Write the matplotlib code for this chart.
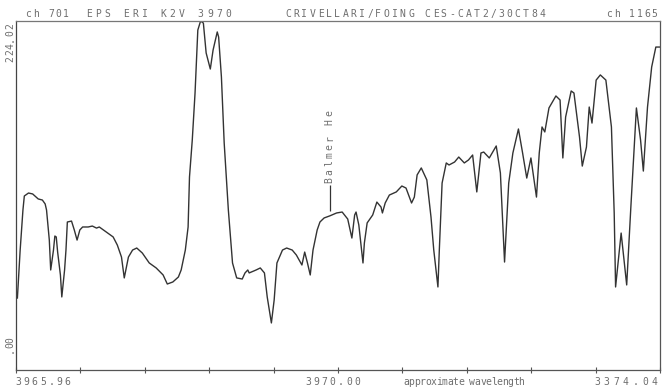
#!/usr/bin/env python3
"""Spectrum plot of eps Eri (K2V) around Ca II H / Balmer He, CES channels 701-1165."""

import numpy as np
import matplotlib.pyplot as plt
from matplotlib.transforms import offset_copy

# -*- Daten: Kanal und Zaehlrate
channel = [702, 704, 706, 707, 710, 713, 717, 720, 722, 723, 724, 725, 726, 728,
           729, 730, 731, 733, 734, 736, 737, 738, 741, 743, 745, 747, 749, 753,
           756, 759, 761, 766, 771, 774, 777, 779, 782, 785, 788, 792, 797, 802,
           807, 810, 814, 818, 820, 823, 825, 826, 828, 830, 832, 834, 836, 838,
           841, 843, 846, 847, 849, 851, 854, 857, 860, 864, 866, 868, 869, 874,
           877, 880, 882, 885, 887, 889, 893, 896, 900, 903, 907, 909, 911, 913,
           915, 918, 920, 923, 927, 932, 936, 940, 943, 945, 946, 948, 951, 952,
           954, 958, 961, 964, 965, 967, 970, 975, 979, 982, 986, 988, 990, 993,
           997, 1000, 1002, 1005, 1006, 1008, 1011, 1013, 1017, 1020, 1024, 1027,
           1030, 1033, 1036, 1038, 1042, 1047, 1050, 1053, 1056, 1059, 1063, 1066,
           1069, 1072, 1076, 1078, 1080, 1082, 1085, 1090, 1093, 1095, 1097, 1101,
           1103, 1107, 1109, 1112, 1114, 1116, 1119, 1122, 1126, 1130, 1132, 1133,
           1137, 1141, 1144, 1148, 1151, 1153, 1156, 1159, 1162, 1165]
counts = [46.2, 77.0, 102.7, 111.7, 113.6, 113.0, 109.8, 109.1, 106.6, 102.7,
          93.1, 83.4, 64.2, 77.0, 86.0, 85.4, 75.7, 61.0, 46.9, 64.2, 77.0, 95.0,
          95.6, 89.9, 83.4, 89.9, 91.8, 91.8, 92.4, 91.1, 91.8, 88.6, 85.4, 80.2,
          72.5, 59.1, 72.5, 77.0, 78.3, 75.1, 68.7, 65.5, 61.0, 55.2, 56.5, 59.7,
          64.2, 77.0, 91.8, 123.9, 147.6, 177.8, 218.2, 224.0, 222.7, 203.5, 193.2,
          205.4, 217.0, 213.7, 188.1, 145.7, 102.7, 68.7, 59.1, 58.4, 62.3, 64.2,
          62.3, 64.2, 65.5, 62.3, 46.9, 30.2, 44.9, 68.7, 77.0, 78.3, 77.0, 73.8,
          67.4, 75.7, 68.7, 61.0, 77.0, 89.9, 95.0, 97.6, 98.9, 100.8, 101.4, 96.9,
          84.7, 99.5, 101.4, 93.1, 68.7, 81.5, 94.4, 99.5, 107.8, 104.6, 100.8,
          107.2, 112.3, 114.3, 118.1, 116.8, 107.2, 111.0, 125.2, 129.7, 122.0,
          98.2, 77.0, 53.3, 77.0, 120.0, 132.9, 131.6, 133.5, 136.7, 132.9, 134.8,
          138.0, 114.3, 139.3, 139.9, 136.1, 143.8, 126.5, 69.3, 120.0, 139.3,
          154.7, 139.3, 123.2, 136.1, 111.0, 139.3, 156.0, 152.8, 168.2, 175.9,
          173.3, 136.1, 162.4, 179.1, 177.8, 149.6, 130.9, 143.1, 168.8, 158.5,
          186.1, 189.4, 186.1, 156.0, 100.8, 53.3, 87.9, 54.6, 104.6, 168.2, 147.6,
          127.7, 168.8, 194.5, 207.3, 207.3]

ch_first, ch_last = 701, 1165
ymax = 224.02
balmer_ch = 927

W, H = 662, 391
ink = "#333333"
txt = "#6e6e6e"

fig = plt.figure(figsize=(W / 100, H / 100), dpi=100)
ax = fig.add_axes([16 / W, 1 - 370 / H, 644 / W, 349 / H])

ax.plot(channel, counts, color=ink, lw=1.0)
ax.set_xlim(ch_first, ch_last)
ax.set_ylim(0, ymax)

# Plotterrahmen
for side, col in (("left", "#444444"), ("bottom", "#555555"),
                  ("top", "#777777"), ("right", "#555555")):
    ax.spines[side].set_color(col)
    ax.spines[side].set_linewidth(0.9)
ax.set_xticks(np.linspace(ch_first, ch_last, 11))
ax.set_xticklabels([])
ax.set_yticks([])
ax.tick_params(axis="x", direction="inout", length=4, width=0.8, color="#555555")

# Markierung Balmer He
ax.vlines(balmer_ch, 102.0, 118.5, color=ink, lw=0.9)


def plotter_text(x, y, s, pitch, trans, vertical=False, size=7):
    """Schrift wie vom Plotter: feste Zeichenbreite in Pixeln"""
    for i, c in enumerate(s):
        if vertical:
            t = offset_copy(trans, fig=fig, x=0, y=i * pitch, units="dots")
            fig.text(x, y, c, transform=t, rotation=90, ha="center", va="center",
                     family="DejaVu Sans Mono", fontsize=size, color=txt)
        else:
            t = offset_copy(trans, fig=fig, x=i * pitch, y=0, units="dots")
            fig.text(x, y, c, transform=t, ha="center", va="baseline",
                     family="DejaVu Sans Mono", fontsize=size, color=txt)


def fx(px):
    return px / W


def fy(py):
    return 1 - py / H


tf = fig.transFigure
# Kopfzeile
plotter_text(fx(28), fy(17), "ch 701", 7.6, tf)
plotter_text(fx(89), fy(17), "EPS ERI K2V 3970", 9.3, tf)
plotter_text(fx(288), fy(17), "CRIVELLARI/FOING CES-CAT2/30CT84", 8.2, tf)
plotter_text(fx(609), fy(17), "ch 1165", 7.6, tf)

# x-Achse
plotter_text(fx(18), fy(385), "3965.96", 8.3, tf)
plotter_text(fx(308), fy(385), "3970.00", 8.2, tf)
plotter_text(fx(406), fy(385), "approximate wavelength", 5.5, tf)
plotter_text(fx(597), fy(385), "3374.04", 9.6, tf)

# y-Achse
plotter_text(fx(10), fy(59), "224.02", 6.5, tf, vertical=True)
plotter_text(fx(10), fy(350), ".00", 5.0, tf, vertical=True)

# Beschriftung der Linie
plotter_text(balmer_ch, 122.0, "Balmer He", 8.3, ax.transData, vertical=True)

fig.savefig("out.png", dpi=100, facecolor="white")
